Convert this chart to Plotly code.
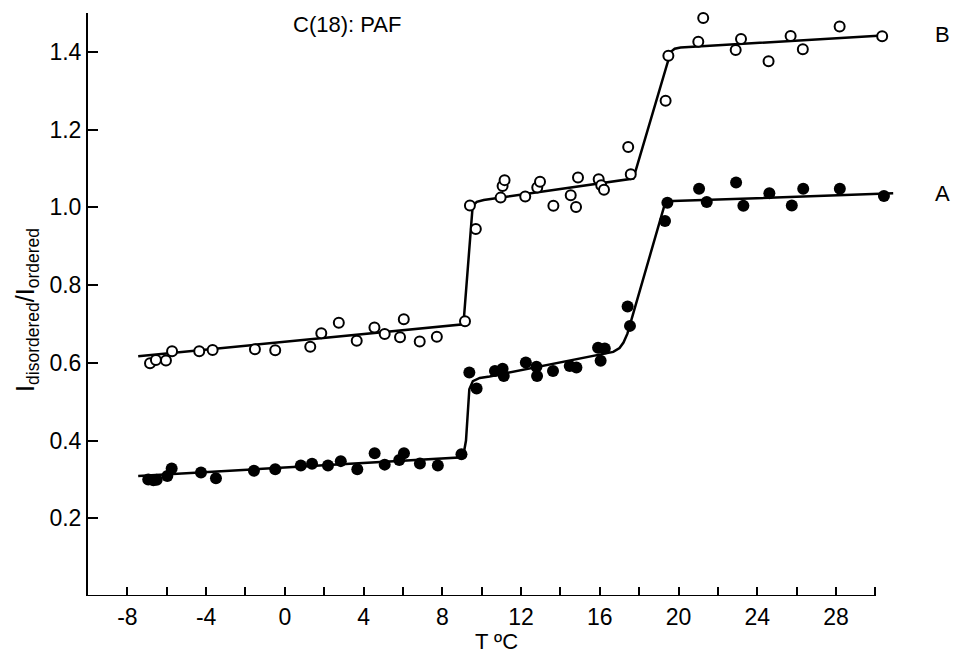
import plotly.graph_objects as go

# Series B (open circles)
b_t = [-6.85, -6.55, -6.04, -5.73, -4.35, -3.67, -1.52, -0.49, 1.29, 1.85, 2.74, 3.65, 4.55, 5.07,
       5.85, 6.04, 6.85, 7.72, 9.15, 9.40, 9.70, 10.96, 11.06, 11.16, 12.21, 12.82, 12.96, 13.64,
       14.52, 14.79, 14.89, 15.94, 16.07, 16.21, 17.44, 17.57, 19.34, 19.48, 21.00, 21.25, 22.90,
       23.17, 24.57, 25.69, 26.31, 28.18, 30.34]
b_r = [0.599, 0.607, 0.606, 0.630, 0.630, 0.633, 0.635, 0.632, 0.641, 0.676, 0.703, 0.657, 0.691, 0.674,
       0.666, 0.712, 0.655, 0.667, 0.707, 1.005, 0.944, 1.025, 1.055, 1.070, 1.028, 1.051, 1.066, 1.004,
       1.031, 1.001, 1.077, 1.072, 1.057, 1.045, 1.155, 1.085, 1.274, 1.390, 1.426, 1.487, 1.405,
       1.433, 1.376, 1.441, 1.407, 1.465, 1.440]

# Series A (filled circles)
a_t = [-6.94, -6.68, -6.51, -5.97, -5.75, -4.26, -3.50, -1.57, -0.49, 0.81, 1.38, 2.19, 2.84, 3.68,
       4.56, 5.07, 5.81, 6.05, 6.86, 7.77, 8.97, 9.37, 9.74, 10.67, 11.06, 11.12, 12.24, 12.78, 12.81,
       13.62, 14.47, 14.81, 15.91, 16.25, 16.04, 17.41, 17.53, 19.31, 19.43, 21.04, 21.43, 22.92,
       23.29, 24.61, 25.75, 26.33, 28.19, 30.43]
a_r = [0.300, 0.298, 0.299, 0.309, 0.328, 0.318, 0.303, 0.322, 0.326, 0.336, 0.340, 0.336, 0.347, 0.326,
       0.367, 0.338, 0.350, 0.367, 0.341, 0.336, 0.365, 0.575, 0.534, 0.579, 0.585, 0.566, 0.601, 0.590, 0.566,
       0.579, 0.592, 0.588, 0.639, 0.637, 0.605, 0.745, 0.695, 0.965, 1.012, 1.048, 1.014, 1.064,
       1.004, 1.036, 1.005, 1.048, 1.048, 1.029]

# Fitted curves
fit_b_t = [-7.45, 9.07, 9.54, 9.75, 10.1, 17.70, 19.60, 19.80, 20.1, 30.35]
fit_b_r = [0.617, 0.699, 1.004, 1.014, 1.019, 1.074, 1.400, 1.408, 1.411, 1.442]
fit_a_t = [-7.45, 9.05, 9.20, 9.37, 9.55, 9.90, 10.4, 16.68, 17.0, 17.2, 17.4, 18.35, 19.28, 19.45, 19.7, 30.9]
fit_a_r = [0.309, 0.357, 0.400, 0.532, 0.553, 0.561, 0.565, 0.628, 0.638, 0.652, 0.675, 0.840, 1.005, 1.013, 1.016, 1.036]

x_ticks = [-8, -4, 0, 4, 8, 12, 16, 20, 24, 28]
x_labels = ["-8", "-4", "0", "4", "8", "12", "16", "20", "24", "28"]
x_minor_ticks = [-6, -2, 2, 6, 10, 14, 18, 22, 26, 30]
y_ticks = [0.2, 0.4, 0.6, 0.8, 1.0, 1.2, 1.4]
y_labels = ["0.2", "0.4", "0.6", "0.8", "1.0", "1.2", "1.4"]
series_labels = ["B", "A"]
series_label_y = [1.444, 1.036]
x_min, x_axis_end, x_max = -10, 30, 31.5

FONT = "Liberation Sans, Arial, sans-serif"

fig = go.Figure()
fig.add_trace(go.Scatter(x=fit_b_t, y=fit_b_r, mode="lines",
                         line=dict(color="black", width=2.5), hoverinfo="skip"))
fig.add_trace(go.Scatter(x=fit_a_t, y=fit_a_r, mode="lines",
                         line=dict(color="black", width=2.5), hoverinfo="skip"))
fig.add_trace(go.Scatter(x=b_t, y=b_r, mode="markers", cliponaxis=False,
                         marker=dict(symbol="circle", size=10, color="white",
                                     line=dict(color="black", width=2))))
fig.add_trace(go.Scatter(x=a_t, y=a_r, mode="markers", cliponaxis=False,
                         marker=dict(symbol="circle", size=12, color="black",
                                     line=dict(color="black", width=0))))

# x-axis line ending at 30
fig.add_shape(type="line", xref="x", yref="y", x0=x_min, x1=x_axis_end, y0=0, y1=0,
              line=dict(color="black", width=2))

fig.add_annotation(x=3.15, y=1.471, xref="x", yref="y", text="C(18): PAF",
                   showarrow=False, font=dict(family=FONT, size=22, color="black"))
for lab, ly in zip(series_labels, series_label_y):
    fig.add_annotation(x=1.0575, y=ly, xref="paper", yref="y", text=lab,
                       showarrow=False, font=dict(family=FONT, size=22, color="black"))
fig.add_annotation(x=-0.096, y=0.49, xref="paper", yref="paper",
                   text="I<sub>disordered</sub>/I<sub>ordered</sub>", textangle=-90,
                   showarrow=False, font=dict(family=FONT, size=25, color="black"))

fig.update_layout(
    width=961, height=654,
    margin=dict(l=88, r=56, t=13, b=58),
    paper_bgcolor="white", plot_bgcolor="white",
    showlegend=False,
    font=dict(family=FONT, size=22, color="black"),
    xaxis=dict(range=[x_min, x_max], tickvals=x_ticks, ticktext=x_labels,
               tickfont=dict(family=FONT, size=23, color="black"),
               ticks="inside", ticklen=9, tickwidth=2, tickcolor="black",
               ticklabelstandoff=5, automargin=False,
               minor=dict(tickvals=x_minor_ticks, ticks="inside",
                          ticklen=9, tickwidth=2, tickcolor="black", showgrid=False),
               showline=False, showgrid=False, zeroline=False,
               title=dict(text="T ºC", font=dict(family=FONT, size=22), standoff=4)),
    yaxis=dict(range=[0, 1.5], tickvals=y_ticks, ticktext=y_labels,
               tickfont=dict(family=FONT, size=23, color="black"),
               ticks="inside", ticklen=10, tickwidth=2, tickcolor="black",
               automargin=False,
               showline=True, linecolor="black", linewidth=2,
               showgrid=False, zeroline=False),
)

fig.write_html("out.html")
